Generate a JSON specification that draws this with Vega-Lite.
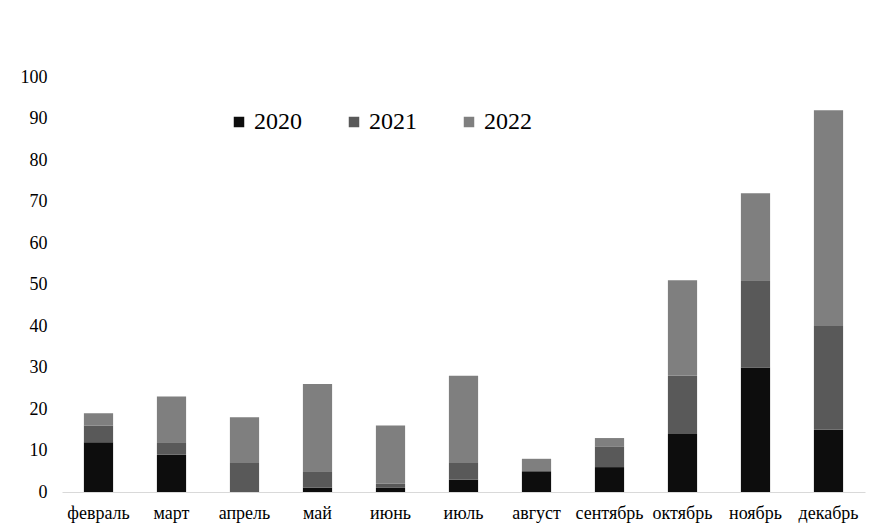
{
  "$schema": "https://vega.github.io/schema/vega-lite/v6.json",
  "autosize": "none",
  "width": 803,
  "height": 415,
  "padding": {"left": 62, "top": 77, "right": 21, "bottom": 35},
  "background": "white",
  "config": {
    "view": {"stroke": null},
    "font": "Liberation Serif",
    "legend": {"labelFont": "Liberation Serif"}
  },
  "data": {
    "values": [
      {"month": "февраль", "year": "2020", "value": 12},
      {"month": "февраль", "year": "2021", "value": 4},
      {"month": "февраль", "year": "2022", "value": 3},
      {"month": "март", "year": "2020", "value": 9},
      {"month": "март", "year": "2021", "value": 3},
      {"month": "март", "year": "2022", "value": 11},
      {"month": "апрель", "year": "2020", "value": 0},
      {"month": "апрель", "year": "2021", "value": 7},
      {"month": "апрель", "year": "2022", "value": 11},
      {"month": "май", "year": "2020", "value": 1},
      {"month": "май", "year": "2021", "value": 4},
      {"month": "май", "year": "2022", "value": 21},
      {"month": "июнь", "year": "2020", "value": 1},
      {"month": "июнь", "year": "2021", "value": 1},
      {"month": "июнь", "year": "2022", "value": 14},
      {"month": "июль", "year": "2020", "value": 3},
      {"month": "июль", "year": "2021", "value": 4},
      {"month": "июль", "year": "2022", "value": 21},
      {"month": "август", "year": "2020", "value": 5},
      {"month": "август", "year": "2021", "value": 0},
      {"month": "август", "year": "2022", "value": 3},
      {"month": "сентябрь", "year": "2020", "value": 6},
      {"month": "сентябрь", "year": "2021", "value": 5},
      {"month": "сентябрь", "year": "2022", "value": 2},
      {"month": "октябрь", "year": "2020", "value": 14},
      {"month": "октябрь", "year": "2021", "value": 14},
      {"month": "октябрь", "year": "2022", "value": 23},
      {"month": "ноябрь", "year": "2020", "value": 30},
      {"month": "ноябрь", "year": "2021", "value": 21},
      {"month": "ноябрь", "year": "2022", "value": 21},
      {"month": "декабрь", "year": "2020", "value": 15},
      {"month": "декабрь", "year": "2021", "value": 25},
      {"month": "декабрь", "year": "2022", "value": 52}
    ]
  },
  "mark": {"type": "bar"},
  "encoding": {
    "x": {
      "field": "month",
      "type": "nominal",
      "sort": null,
      "scale": {"paddingInner": 0.6, "paddingOuter": 0.3},
      "axis": {
        "title": null,
        "labelAngle": 0,
        "ticks": false,
        "domainColor": "#d9d9d9",
        "domainWidth": 1,
        "labelFont": "Liberation Serif",
        "labelFontSize": 18,
        "labelColor": "#000000",
        "labelPadding": 12
      }
    },
    "y": {
      "field": "value",
      "type": "quantitative",
      "stack": "zero",
      "scale": {"domain": [0, 100]},
      "axis": {
        "title": null,
        "values": [0, 10, 20, 30, 40, 50, 60, 70, 80, 90, 100],
        "grid": false,
        "domain": false,
        "ticks": false,
        "labelFont": "Liberation Serif",
        "labelFontSize": 18,
        "labelColor": "#000000",
        "labelPadding": 15
      }
    },
    "color": {
      "field": "year",
      "type": "nominal",
      "scale": {"domain": ["2020", "2021", "2022"], "range": ["#0d0d0d", "#595959", "#7f7f7f"]},
      "legend": {
        "title": null,
        "orient": "none",
        "direction": "horizontal",
        "legendX": 165,
        "legendY": 33,
        "symbolType": "square",
        "symbolSize": 110,
        "symbolStrokeWidth": 0,
        "labelFont": "Liberation Serif",
        "labelFontSize": 24,
        "labelColor": "#000000",
        "labelOffset": 3,
        "columnPadding": 40
      }
    },
    "order": {"field": "year", "type": "nominal", "sort": "ascending"}
  }
}
